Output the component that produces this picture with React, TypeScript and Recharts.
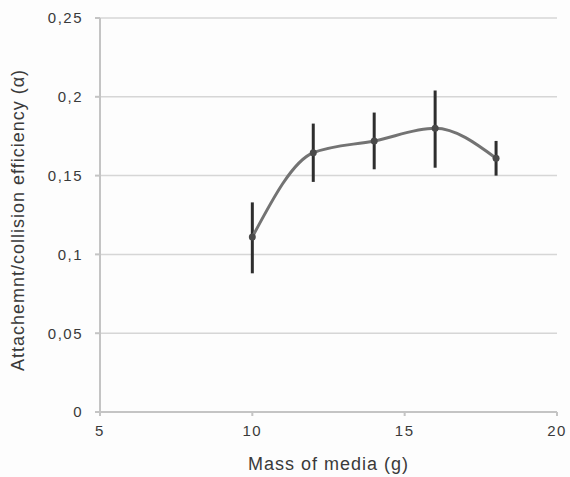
import React from 'react';
import { LineChart, Line, XAxis, YAxis, CartesianGrid, ErrorBar } from 'recharts';

const massOfMedia = [10, 12, 14, 16, 18];
const alphaValues = [0.111, 0.1645, 0.172, 0.18, 0.161];
const upperBounds = [0.133, 0.183, 0.19, 0.204, 0.172];
const lowerBounds = [0.088, 0.146, 0.154, 0.155, 0.15];
const xTicks = [5, 10, 15, 20];
const yTicks = [0, 0.05, 0.1, 0.15, 0.2, 0.25];

const data = massOfMedia.map((m, i) => ({
  mass: m,
  alpha: alphaValues[i],
  err: [alphaValues[i] - lowerBounds[i], upperBounds[i] - alphaValues[i]],
}));

const FONT = '"Liberation Sans", Arial, sans-serif';
const TEXT = '#3a3a3a';

const YLabel = (props: any) => {
  const vb = props.viewBox || { x: 40, y: 18, width: 60, height: 394 };
  const cx = vb.x - 22;
  const cy = vb.y + vb.height / 2 + 5;
  return (
    <text
      x={cx}
      y={cy}
      transform={`rotate(-90, ${cx}, ${cy})`}
      textAnchor="middle"
      dominantBaseline="central"
      fontFamily={FONT}
      fontSize={18}
      letterSpacing={1}
      fill={TEXT}
    >
      Attachemnt/collision efficiency (α)
    </text>
  );
};

const Dot = (props: any) => {
  const { cx, cy } = props;
  if (cx == null || cy == null) return null;
  return <circle cx={cx} cy={cy} r={3.5} fill="#4a4a4a" />;
};

export default function App() {
  return (
    <div style={{ position: 'absolute', left: 0, top: 0, width: 570, height: 477, background: '#fdfdfd' }}>
      <LineChart width={570} height={477} data={data} margin={{ top: 18, right: 13, left: 40, bottom: 0 }}>
        <CartesianGrid vertical={false} stroke="#d6d6d6" strokeWidth={1.5} />
        <XAxis
          dataKey="mass"
          type="number"
          domain={[5, 20]}
          ticks={xTicks}
          height={65}
          stroke="#c4c4c4"
          strokeWidth={2}
          tickSize={4}
          tickMargin={9}
          tick={{ fill: TEXT, fontSize: 15, fontFamily: FONT, letterSpacing: 1.5 }}
          label={{
            value: 'Mass of media (g)',
            position: 'insideBottom',
            offset: 7,
            style: { fill: TEXT, fontSize: 18, fontFamily: FONT, letterSpacing: 1 },
          }}
        />
        <YAxis
          type="number"
          domain={[0, 0.25]}
          ticks={yTicks}
          width={60}
          stroke="#c4c4c4"
          strokeWidth={2}
          tickSize={5}
          tickMargin={12}
          tickFormatter={(v: number) => String(v).replace('.', ',')}
          tick={{ fill: TEXT, fontSize: 15, fontFamily: FONT, letterSpacing: 1.5 }}
          label={<YLabel />}
        />
        <Line
          type="monotone"
          dataKey="alpha"
          stroke="#737373"
          strokeWidth={3}
          dot={<Dot />}
          activeDot={false}
          isAnimationActive={false}
        >
          <ErrorBar dataKey="err" direction="y" width={0} stroke="#2e2e2e" strokeWidth={3} isAnimationActive={false} />
        </Line>
      </LineChart>
    </div>
  );
}
